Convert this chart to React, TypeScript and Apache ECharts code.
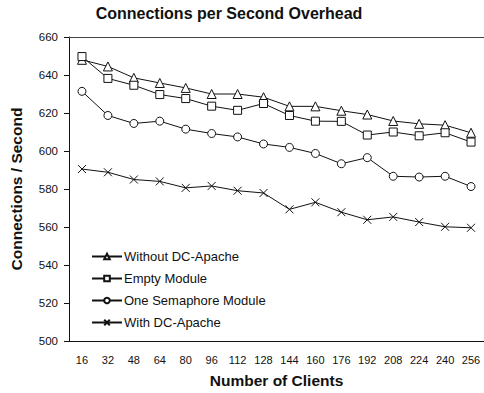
import React, { useEffect, useRef } from "react";
import * as echarts from "echarts";

const clients = ["16", "32", "48", "64", "80", "96", "112", "128", "144", "160", "176", "192", "208", "224", "240", "256"];
const withoutDC = [648, 644.5, 638.5, 635.8, 633.2, 630, 630, 628.3, 623.5, 623.5, 621.2, 619.2, 615.8, 614.3, 613.6, 609.6];
const emptyModule = [649.7, 638.2, 634.6, 629.7, 627.6, 623.6, 621.4, 625, 618.7, 615.7, 615.6, 608.4, 610, 608, 609.6, 604.7];
const oneSemaphore = [631.4, 618.7, 614.5, 615.7, 611.5, 609.2, 607.4, 603.7, 601.9, 598.7, 593.3, 596.5, 586.7, 586.3, 586.7, 581.3];
const withDC = [590.5, 588.8, 585, 584, 580.6, 581.6, 579.1, 577.9, 569.3, 573, 567.8, 563.8, 565.3, 562.6, 560.1, 559.6];

const yTicks = { min: 500, max: 660, interval: 20 };

const FONT = "'Liberation Sans', Arial, sans-serif";
const INK = "#111";

export default function App() {
  const ref = useRef<HTMLDivElement>(null);
  useEffect(() => {
    if (!ref.current) return;
    const chart = echarts.init(ref.current, null, { renderer: "svg" });
    const mk = (name: string, data: number[], symbol: string, size: number) => ({
      name,
      type: "line",
      data,
      symbol,
      symbolSize: size,
      showAllSymbol: true,
      lineStyle: { color: INK, width: 1 },
      itemStyle: { color: symbol.startsWith("path") ? "none" : "#fff", borderColor: INK, borderWidth: 1 },
      emphasis: { disabled: true },
    });
    chart.setOption({
      animation: false,
      backgroundColor: "#fff",
      textStyle: { fontFamily: FONT, color: INK },
      title: {
        text: "Connections per Second Overhead",
        left: 224,
        textAlign: "center",
        top: 0,
        textStyle: { fontFamily: FONT, fontSize: 16, fontWeight: "bold", color: INK },
      },
      grid: { left: 67, right: 0, top: 37, bottom: 50, show: false },
      legend: {
        orient: "vertical",
        left: 86,
        top: 245,
        itemWidth: 30,
        itemHeight: 7,
        itemGap: 9,
        textStyle: { fontFamily: FONT, fontSize: 13, color: INK, padding: [0, 0, 0, -3] },
        data: ["Without DC-Apache", "Empty Module", "One Semaphore Module", "With DC-Apache"],
      },
      xAxis: [
        {
          type: "category",
          data: clients,
          boundaryGap: true,
          name: "Number of Clients",
          nameLocation: "middle",
          nameGap: 31,
          nameTextStyle: { fontFamily: FONT, fontSize: 15.5, fontWeight: "bold", color: INK },
          axisLine: { lineStyle: { color: INK, width: 1 } },
          axisTick: { inside: true, length: 5, lineStyle: { color: INK } },
          axisLabel: { fontFamily: FONT, fontSize: 11, color: INK, margin: 13, interval: 0 },
        },
        {
          type: "category",
          data: clients,
          position: "top",
          axisLine: { lineStyle: { color: "#444", width: 1 } },
          axisTick: { show: false },
          axisLabel: { show: false },
        },
      ],
      yAxis: {
        type: "value",
        min: yTicks.min,
        max: yTicks.max,
        interval: yTicks.interval,
        name: "Connections / Second",
        nameLocation: "middle",
        nameGap: 45,
        nameTextStyle: { fontFamily: FONT, fontSize: 15.5, fontWeight: "bold", color: INK },
        axisLine: { show: true, lineStyle: { color: INK, width: 1 } },
        axisTick: { show: true, length: 5, lineStyle: { color: INK } },
        axisLabel: { fontFamily: FONT, fontSize: 11.5, color: INK, margin: 11 },
        splitLine: { show: false },
      },
      series: [
        mk("Without DC-Apache", withoutDC, "triangle", 9),
        mk("Empty Module", emptyModule, "rect", 8),
        mk("One Semaphore Module", oneSemaphore, "circle", 8),
        mk("With DC-Apache", withDC, "path://M0,0L10,10M10,0L0,10", 8),
      ],
    });
    return () => chart.dispose();
  }, []);
  return <div ref={ref} style={{ width: 484, height: 393, position: "absolute", left: 0, top: 0 }} />;
}
